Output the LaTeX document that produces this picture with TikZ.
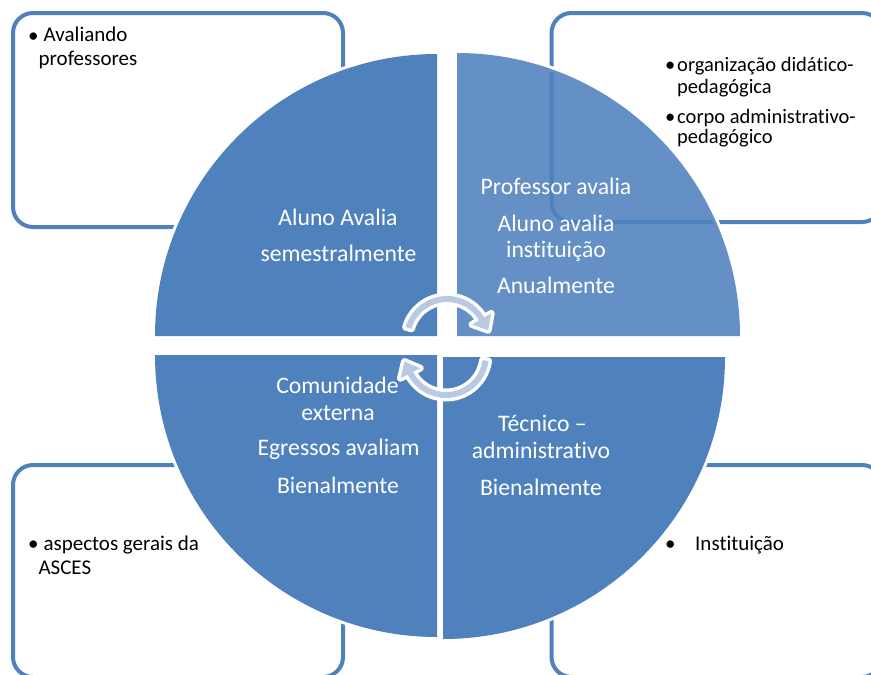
\documentclass[tikz,border=0pt]{standalone}
\usepackage{fontspec}
\setmainfont{Carlito}[Ligatures={TeX,NoCommon}]
\definecolor{blu}{HTML}{4F81BD}
\definecolor{arrowfill}{HTML}{B9C9E4}
\tikzset{
  boxline/.style={draw=blu, line width=4pt, rounded corners=20pt},
  halo/.style={draw=white, fill=white, line width=6pt, line join=round},
  sectxt/.style={text=white, font=\fontsize{23.7}{26}\selectfont, anchor=base, inner sep=0pt},
  bxtxt/.style={text=black, font=\fontsize{21}{24}\selectfont, anchor=base west, inner sep=0pt},
  bxtxtsmall/.style={text=black, font=\fontsize{20.5}{22}\selectfont, anchor=base west, inner sep=0pt},
  secTL/.style={insert path={(437,336) -- (155,336) arc[start angle=180, end angle=270, radius=282] -- cycle}},
  secTR/.style={insert path={(457,336) -- (457,53) arc[start angle=270, end angle=360, radius=283] -- cycle}},
  secBL/.style={insert path={(437,355) -- (155,355) arc[start angle=180, end angle=90, radius=282] -- cycle}},
  secBR/.style={insert path={(443,357) -- (725,357) arc[start angle=0, end angle=90, radius=282] -- cycle}},
  arrhalo/.style={draw=white, fill=white, line width=7pt, line join=round},
  arrfill/.style={fill=arrowfill},
  arrTop/.style={insert path={(-164:43) arc[start angle=-164, end angle=-30, radius=43] -- (-30:51) -- (41.14,-8.74) -- (-30:29) -- (-30:37) arc[start angle=-30, end angle=-164, radius=37] -- cycle}},
  arrBot/.style={insert path={(8:43) arc[start angle=8, end angle=153, radius=43] -- (153:51) -- (-41.54,6.58) -- (153:29) -- (153:37) arc[start angle=153, end angle=8, radius=37] -- cycle}}
}
\begin{document}
\begin{tikzpicture}[x=1pt,y=-1pt]
\useasboundingbox (0,0) rectangle (871,675);
\clip (0,0) rectangle (871,675);
% corner boxes
\draw[boxline, fill=white] (13,13) rectangle (343,227);
\draw[boxline, fill=white] (551.5,13) rectangle (882,222);
\draw[boxline, fill=white] (13,465) rectangle (343,677);
\draw[boxline, fill=white] (551.5,465) rectangle (882,677);
% halos of the sectors
\path[halo, secTL];
\path[halo, secBL];
\path[halo, secBR];
\path[draw=white, line width=6pt, line join=round, secTR];
% sectors
\fill[blu, secTL];
\fill[blu, fill opacity=0.88, secTR];
\fill[blu, secBL];
\fill[blu, secBR];
% box texts
\node[bxtxt] (b1) at (28,42) {•};
\node[bxtxt] (t1a) at (43.5,41.7) {Avaliando};
\node[bxtxt] (t1b) at (38.5,65.7) {professores};
\node[bxtxtsmall] (b2) at (665,71.5) {•};
\node[bxtxtsmall] (t2a) at (677,71.5) {organização didático-};
\node[bxtxtsmall] (t2b) at (677,93) {pedagógica};
\node[bxtxtsmall] (b3) at (665,123) {•};
\node[bxtxtsmall] (t2c) at (677,123) {corpo administrativo-};
\node[bxtxtsmall] (t2d) at (677,143.5) {pedagógico};
\node[bxtxt] (b4) at (28,550) {•};
\node[bxtxt] (t3a) at (43.3,550) {aspectos gerais da};
\node[bxtxt] (t3b) at (38.3,574) {ASCES};
\node[bxtxt] (b5) at (665,550) {•};
\node[bxtxt] (t4a) at (695,550) {Instituição};
% sector texts
\node[sectxt] (s1a) at (338,225) {Aluno Avalia};
\node[sectxt] (s1b) at (338.5,261.7) {semestralmente};
\node[sectxt] (s2a) at (556,194) {Professor avalia};
\node[sectxt] (s2b) at (556,231) {Aluno avalia};
\node[sectxt] (s2c) at (556,257.3) {instituição};
\node[sectxt] (s2d) at (556,293) {Anualmente};
\node[sectxt] (s3a) at (337.5,393.3) {Comunidade};
\node[sectxt] (s3b) at (338,420) {externa};
\node[sectxt] (s3c) at (338.5,455.7) {Egressos avaliam};
\node[sectxt] (s3d) at (338,493.3) {Bienalmente};
\node[sectxt] (s4a) at (542.5,431.7) {Técnico –};
\node[sectxt] (s4b) at (541,458.3) {administrativo};
\node[sectxt] (s4c) at (541,495) {Bienalmente};
% circular arrows
\begin{scope}[shift={(447,339)}]
  \path[arrhalo, arrTop];
  \path[arrfill, arrTop];
\end{scope}
\begin{scope}[shift={(446,355)}]
  \path[arrhalo, arrBot];
  \path[arrfill, arrBot];
\end{scope}
\end{tikzpicture}
\end{document}
